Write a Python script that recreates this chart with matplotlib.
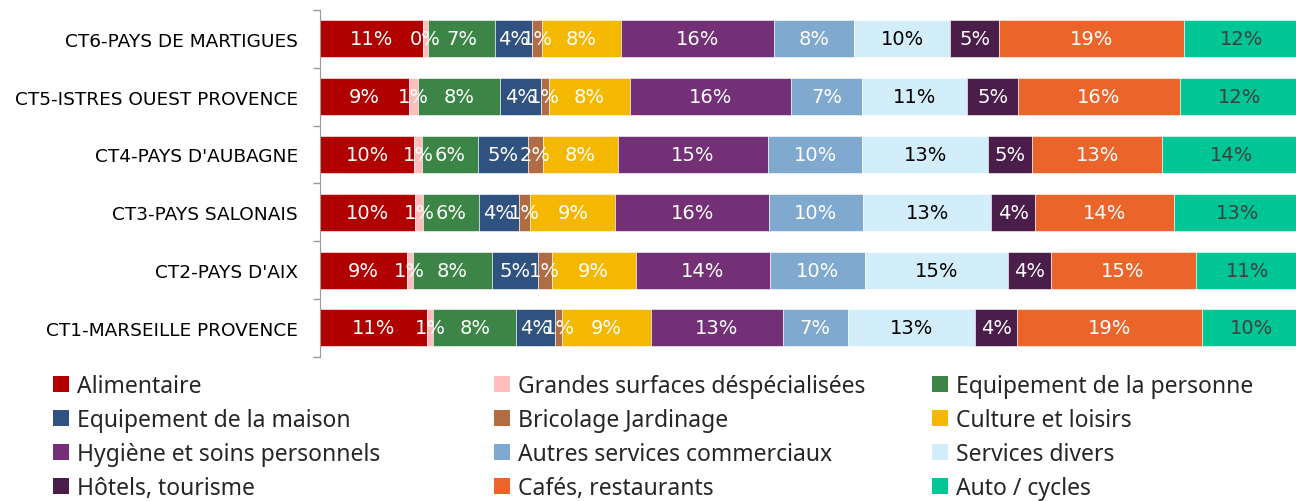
import matplotlib.pyplot as plt
import numpy as np
from matplotlib.patches import Patch

# territories, bottom to top
territories = [
    "CT1-MARSEILLE PROVENCE",
    "CT2-PAYS D'AIX",
    "CT3-PAYS SALONAIS",
    "CT4-PAYS D'AUBAGNE",
    "CT5-ISTRES OUEST PROVENCE",
    "CT6-PAYS DE MARTIGUES",
]

sectors = [
    "Alimentaire", "Grandes surfaces déspécialisées", "Equipement de la personne",
    "Equipement de la maison", "Bricolage Jardinage", "Culture et loisirs",
    "Hygiène et soins personnels", "Autres services commerciaux", "Services divers",
    "Hôtels, tourisme", "Cafés, restaurants", "Auto / cycles",
]

colors = [
    "#B00000", "#FFBDBD", "#3C8546", "#2F5281", "#B06C45", "#F4B800",
    "#733077", "#7FA9CE", "#D3EEFB", "#4A1D4B", "#EB652B", "#00C695",
]
text_colors = ["white"] * 8 + ["black", "white", "white", "#404040"]

# share (%) per sector, one row per territory (same order as `territories`)
ct1 = [10.89, 0.65, 8.48, 4.01, 0.71, 9.02, 13.48, 6.61, 13.04, 4.25, 18.89, 9.98]
ct2 = [8.84, 0.61, 8.14, 4.60, 1.45, 8.54, 13.75, 9.63, 14.64, 4.32, 14.78, 10.65]
ct3 = [9.70, 0.85, 5.69, 4.04, 1.16, 8.71, 15.65, 9.60, 13.11, 4.42, 14.22, 12.84]
ct4 = [9.63, 0.79, 5.72, 5.06, 1.60, 7.56, 15.39, 9.60, 12.79, 4.52, 13.27, 14.06]
ct5 = [9.12, 0.85, 8.37, 4.16, 0.85, 8.31, 16.44, 7.18, 10.75, 5.21, 16.48, 12.28]
ct6 = [10.55, 0.45, 6.90, 3.78, 0.99, 8.00, 15.62, 8.24, 9.80, 5.00, 18.80, 11.87]

data = np.array([ct1, ct2, ct3, ct4, ct5, ct6])
shares = data / data.sum(axis=1, keepdims=True) * 100

fig = plt.figure(figsize=(12.96, 5.02), dpi=100)
ax = fig.add_axes([320 / 1296, 1 - 357.7 / 502, 980 / 1296, 346.7 / 502])

y = np.arange(len(territories))
left = np.zeros(len(territories))
for j, sector in enumerate(sectors):
    vals = shares[:, j]
    ax.barh(y, vals, left=left, height=0.64, color=colors[j],
            edgecolor="white", linewidth=0.4)
    for i, v in enumerate(vals):
        ax.text(left[i] + v / 2, y[i], f"{int(round(v))}%", ha="center",
                va="center", color=text_colors[j], fontsize=14)
    left += vals

ax.set_xlim(0, 100)
ax.set_ylim(-0.5, len(territories) - 0.5)
ax.set_yticks(y)
ax.set_yticklabels(territories, fontsize=13.3)
ax.tick_params(axis="y", which="major", length=0, pad=16)
ax.set_yticks(np.arange(-0.5, len(territories)), minor=True)
ax.tick_params(axis="y", which="minor", length=5, color="#9A9A9A", width=1)
ax.set_xticks([])
for s in ["top", "right", "bottom"]:
    ax.spines[s].set_visible(False)
ax.spines["left"].set_color("#9A9A9A")

# legend: three fixed-width columns, filled row by row
col_x = [53 / 1296, 494 / 1296, 932 / 1296]
for c in range(3):
    idx = [r * 3 + c for r in range(4)]
    handles = [Patch(facecolor=colors[k], edgecolor="none") for k in idx]
    fig.legend(handles, [sectors[k] for k in idx], loc="upper left",
               bbox_to_anchor=(col_x[c], 1 - 375 / 502), frameon=False,
               prop={"family": "Noto Sans", "size": 16.5},
               handlelength=0.7, handleheight=0.7, handletextpad=0.35,
               labelspacing=0.43, borderaxespad=0, borderpad=0,
               labelcolor="#262626")

fig.savefig("out.png", dpi=100)
